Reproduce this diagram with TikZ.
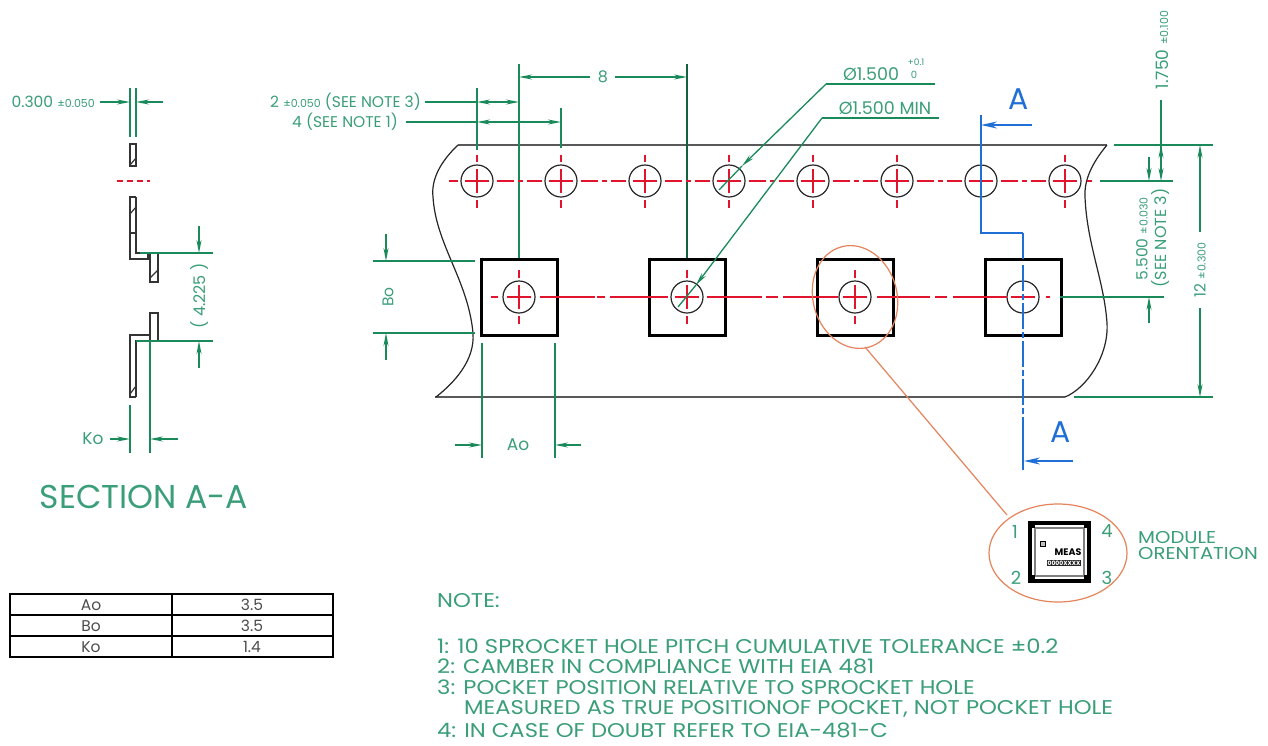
\documentclass[tikz,border=0pt]{standalone}
\usepackage{fontspec}
\setmainfont{Poppins}
\newfontfamily\widef[FakeStretch=1.14]{Poppins}
\usetikzlibrary{arrows.meta}
\definecolor{dimg}{HTML}{1B8A5A}
\definecolor{txtg}{HTML}{3A9E78}
\definecolor{redl}{HTML}{E0152D}
\definecolor{bluel}{HTML}{1F6FD6}
\definecolor{oran}{HTML}{E5835C}
\newcommand{\fsz}[1]{\fontsize{#1}{#1}\selectfont}
\newcommand{\tolr}[1]{{\fsz{11}#1}}
\tikzset{
  dimline/.style={color=dimg,line width=1.3},
  extline/.style={color=dimg,line width=1.3},
  dimarrow/.style={color=dimg,line width=1.3,-{Stealth[length=13,width=5]}},
  bluearrow/.style={color=bluel,line width=1.3,-{Stealth[length=16,width=7]}},
  dimtext/.style={text=txtg,font=\fsz{15.5},inner sep=0},
  notetext/.style={text=txtg,font=\widef\fsz{19.9},inner sep=0,anchor=west},
  pocket/.style={color=black,line width=3},
  holecirc/.style={color=black!85,line width=1.2},
  centerln/.style={color=redl,line width=1.3},
  tapeedge/.style={color=black!65,line width=1.3},
  waveedge/.style={color=black!85,line width=1.2},
  sect/.style={color=black!80,line width=1.2},
  cell/.style={text=black!70,font=\fsz{15.5},inner sep=0},
}
\begin{document}
\begin{tikzpicture}[x=1pt,y=-1pt]
\useasboundingbox (0,0) rectangle (1268,745);
\fill[white] (0,0) rectangle (1268,745);

% tape
\draw[tapeedge] (458,145) -- (1107,145);
\draw[tapeedge] (435,397) -- (1065,397);
\draw[waveedge] (458,145) .. controls (440,162) and (431,180) .. (433,197)
  .. controls (436,245) and (468,280) .. (473,333)
  .. controls (475,360) and (455,382) .. (436,397);
\draw[waveedge] (1107,145) .. controls (1092,163) and (1084,180) .. (1085,197)
  .. controls (1087,245) and (1104,280) .. (1107,323)
  .. controls (1109,355) and (1087,388) .. (1065,397);

% extension lines through the tape
\draw[extline] (477,88) -- (477,150);
\draw[extline] (561,108) -- (561,148);
\draw[extline] (519,64) -- (519,259);
\draw[extline,color=dimg!70!black] (687,64) -- (687,259);

% sprocket holes
\foreach \cx in {477,561,...,1065} {
  \draw[holecirc] (\cx,181) circle (16);
  \draw[centerln] (\cx-12,181) -- (\cx+12,181);
}
\foreach \cx in {477,561,...,897,1065} {
  \draw[centerln] (\cx,169) -- (\cx,193);
  \draw[centerln] (\cx,155) -- (\cx,162);
  \draw[centerln] (\cx,200) -- (\cx,208);
}
\foreach \cx in {477,561,...,981} {
  \draw[centerln] (\cx+20,181) -- (\cx+37,181);
  \draw[centerln] (\cx+41,181) -- (\cx+46,181);
  \draw[centerln] (\cx+50,181) -- (\cx+65,181);
}
\draw[centerln] (449,181) -- (458,181);
\draw[centerln] (1087,181) -- (1092,181);

% pockets
\foreach \cx in {519,687,855,1023} {
  \draw[holecirc] (\cx,297) circle (16);
  \draw[centerln] (\cx-12,297) -- (\cx+12,297);
  \draw[pocket] (\cx-38,259) rectangle (\cx+38,335);
}
\foreach \cx in {519,687,855} {
  \draw[centerln] (\cx,285) -- (\cx,309);
  \draw[centerln] (\cx,270) -- (\cx,278);
  \draw[centerln] (\cx,316) -- (\cx,324);
}
\draw[centerln] (491,297) -- (498,297);
\foreach \ax/\bx/\cxa/\cxb/\dx/\ex in {540/595/597/605/610/668,707/762/766/778/783/838,877/930/935/947/953/1007} {
  \draw[centerln] (\ax,297) -- (\bx,297);
  \draw[centerln] (\cxa,297) -- (\cxb,297);
  \draw[centerln] (\dx,297) -- (\ex,297);
}
\draw[centerln] (1046,297) -- (1050,297);

% dimension 8
\draw[dimarrow] (590,77) -- (519,77);
\draw[dimarrow] (615,77) -- (687,77);
\node[dimtext,font=\fsz{16}] (dim8) at (603,77) {8};

% 2 and 4
\node[dimtext,anchor=east] (dimtwo) at (421,102) {2 \tolr{±0.050} (SEE NOTE 3)};
\node[dimtext,anchor=east] (dimfour) at (398,122) {4 (SEE NOTE 1)};
\draw[dimline] (425,102) -- (477,102);
\draw[dimarrow] (498,102) -- (477,102);
\draw[dimarrow] (498,102) -- (519,102);
\draw[dimline] (406,122) -- (477,122);
\draw[dimarrow] (519,122) -- (477,122);
\draw[dimarrow] (519,122) -- (561,122);

% diameters
\node[dimtext,font=\fsz{17.5}] (dia1) at (871,74) {Ø1.500};
\node[dimtext,font=\fsz{9}] (tol1) at (916,62) {+0.1};
\node[dimtext,font=\fsz{10}] (tol2) at (914,75) {0};
\draw[dimline] (935,84) -- (826,84);
\draw[dimarrow] (826,84) -- (742,166);
\draw[dimline] (742,166) -- (719,190);
\node[dimtext,font=\fsz{17.5}] (dia2) at (885,108) {Ø1.500 MIN};
\draw[dimline] (939,118) -- (822,118);
\draw[dimarrow] (822,118) -- (696,285);
\draw[dimline] (696,285) -- (678,307);

% Bo
\draw[extline] (373,261) -- (475,261);
\draw[extline] (373,333) -- (475,333);
\draw[dimarrow] (386,234) -- (386,261);
\draw[dimarrow] (386,360) -- (386,333);
\node[dimtext,rotate=90] (bo) at (388,297) {Bo};

% Ao
\draw[extline] (482,343) -- (482,458);
\draw[extline] (555,343) -- (555,458);
\draw[dimarrow] (455,445) -- (482,445);
\draw[dimarrow] (581,445) -- (555,445);
\node[dimtext,font=\fsz{17}] (ao) at (518,445) {Ao};

% right dims
\node[dimtext,rotate=90,font=\fsz{17}] (d175) at (1162,50) {1.750 \tolr{±0.100}};
\draw[dimline] (1161,100) -- (1161,163);
\draw[dimarrow] (1161,163) -- (1161,145);
\draw[dimarrow] (1161,163) -- (1161,181);
\draw[extline] (1114,145) -- (1213,145);
\draw[extline] (1100,181) -- (1173,181);
\draw[extline] (1060,297) -- (1164,297);
\draw[extline] (1074,397) -- (1213,397);
\draw[dimarrow] (1149,157) -- (1149,181);
\draw[dimarrow] (1149,323) -- (1149,297);
\node[dimtext,rotate=90] (d55) at (1142,239) {5.500 \tolr{±0.030}};
\node[dimtext,rotate=90,font=\fsz{16}] (d55n) at (1160,238) {(SEE NOTE 3)};
\draw[dimarrow] (1200,232) -- (1200,145);
\draw[dimarrow] (1200,308) -- (1200,397);
\node[dimtext,rotate=90] (d12) at (1200,270) {12 \tolr{±0.300}};

% section line
\draw[color=bluel,line width=1.5] (981,115) -- (981,233) -- (1023,233);
\draw[color=bluel,line width=2.4] (1023,233) -- (1023,259);
\draw[color=bluel,line width=1.5,dash pattern=on 26 off 3 on 6 off 3] (1023,265) -- (1023,445);
\draw[color=bluel,line width=2.4] (1023,437) -- (1023,470);
\draw[bluearrow] (1032,125) -- (981,125);
\draw[bluearrow] (1073,461) -- (1024,461);
\node[text=bluel,font=\fsz{30},inner sep=0] (afirst) at (1019,99) {A};
\node[text=bluel,font=\fsz{30},inner sep=0] (asecond) at (1061,432) {A};

% detail call-out
\draw[oran,line width=1.2] (855,297) ellipse[x radius=42,y radius=52,rotate=15];
\draw[oran,line width=1.2] (865,347) -- (1007,515);
\draw[oran,line width=1.2] (1058,553) ellipse[x radius=69,y radius=49];

% chip
\draw[color=black,line width=4,fill=white] (1030,523) rectangle (1089,581);
\draw[color=black!50,line width=1.2] (1035,528) rectangle (1084,576);
\foreach \px/\py in {1029/522,1084/522,1029/575,1084/575} \fill[black] (\px,\py) rectangle +(6,6);
\draw[color=black,fill=black!25,line width=1] (1040,541) rectangle (1045,546);
\node[inner sep=0,font=\fsz{9.5}\bfseries,text=black] (meas) at (1068,552) {MEAS};
\node[inner sep=0.6,font=\fsz{6}\bfseries,fill=black!85,text=white] (xxx) at (1064,563) {0000XXXX};
\node[dimtext,font=\fsz{18}] (p1) at (1015,532) {1};
\node[dimtext,font=\fsz{18}] (p4) at (1107,531) {4};
\node[dimtext,font=\fsz{18}] (p2) at (1016,578) {2};
\node[dimtext,font=\fsz{18}] (p3) at (1107,578) {3};
\node[notetext,font=\widef\fsz{17.2}] (mod1) at (1138,537) {MODULE};
\node[notetext,font=\widef\fsz{17.2}] (mod2) at (1138,553) {ORENTATION};

% section A-A
\draw[extline] (130,88) -- (130,137);
\draw[extline] (136,88) -- (136,137);
\draw[dimarrow] (100,102) -- (130,102);
\draw[dimarrow] (163,102) -- (136,102);
\node[dimtext,anchor=east] (d03) at (95,102) {0.300 \tolr{±0.050}};
\draw[sect] (130,144) rectangle (136,166);
\draw[centerln,dash pattern=on 6 off 4] (117,181) -- (150,181);
\draw[sect] (136,197) -- (130,197) -- (130,259) -- (148,259) -- (148,253);
\draw[sect] (136,197) -- (136,253) -- (150,253);
\draw[sect] (130,233) -- (136,233);
\draw[sect] (150,253) rectangle (158,282);
\draw[sect] (150,313) rectangle (158,341);
\draw[sect] (136,397) -- (130,397) -- (130,335) -- (150,335);
\draw[sect] (136,397) -- (136,341) -- (158,341);
\draw[sect] (130,165) -- (136,158);
\draw[sect] (130,214) -- (136,207);
\draw[sect] (150,278) -- (158,270);
\draw[sect] (130,394) -- (136,386);
\draw[extline] (140,253) -- (213,253);
\draw[extline] (136,341) -- (213,341);
\draw[dimarrow] (199,226) -- (199,253);
\draw[dimarrow] (199,368) -- (199,341);
\node[dimtext,rotate=90,font=\fsz{16}] (d42) at (200,296) {( 4.225 )};
\draw[extline] (130,405) -- (130,453);
\draw[extline] (150,341) -- (150,453);
\draw[dimarrow] (110,439) -- (130,439);
\draw[dimarrow] (178,439) -- (150,439);
\node[dimtext,font=\fsz{17}] (ko) at (93,439) {Ko};
\node[text=txtg,font=\fsz{33},inner sep=0] (title) at (144,497) {SECTION A-A};

% table
\draw[color=black,line width=1.5] (10,594) rectangle (333,657);
\draw[color=black,line width=1.5] (10,615) -- (333,615);
\draw[color=black,line width=1.5] (10,636) -- (333,636);
\draw[color=black,line width=1.5] (172,594) -- (172,657);
\node[cell] (t1a) at (91,605) {Ao};
\node[cell] (t1b) at (252,605) {3.5};
\node[cell] (t2a) at (91,626) {Bo};
\node[cell] (t2b) at (252,626) {3.5};
\node[cell] (t3a) at (91,647) {Ko};
\node[cell] (t3b) at (252,647) {1.4};

% notes
\node[notetext] (n0) at (437,601) {NOTE:};
\node[notetext] (n1) at (437,646) {1: 10 SPROCKET HOLE PITCH CUMULATIVE TOLERANCE ±0.2};
\node[notetext] (n2) at (437,666) {2: CAMBER IN COMPLIANCE WITH EIA 481};
\node[notetext] (n3) at (437,687) {3: POCKET POSITION RELATIVE TO SPROCKET HOLE};
\node[notetext] (n3b) at (464,709) {MEASURED AS TRUE POSITIONOF POCKET, NOT POCKET HOLE};
\node[notetext] (n4) at (437,730) {4: IN CASE OF DOUBT REFER TO EIA-481-C};
\end{tikzpicture}
\end{document}
